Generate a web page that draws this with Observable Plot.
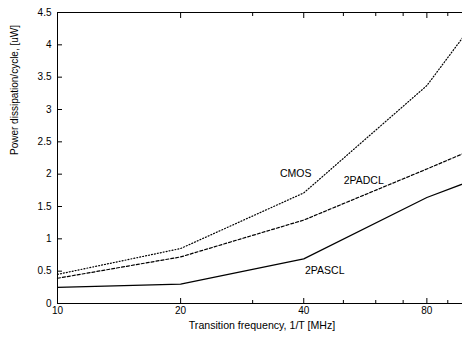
<!DOCTYPE html>
<html><head><meta charset="utf-8">
<script src="https://cdn.jsdelivr.net/npm/d3@7"></script>
<script src="https://cdn.jsdelivr.net/npm/@observablehq/plot@0.6"></script>
<style>
html,body{margin:0;padding:0;background:#fff;overflow:hidden;}
#chart svg{max-width:none !important;display:block;}
</style></head><body><div id="chart"></div>
<script>
const freq = [10, 20, 40, 80, 100];
const cmos = [0.45, 0.85, 1.71, 3.37, 4.19];
const padcl = [0.39, 0.72, 1.29, 2.08, 2.34];
const pascl = [0.25, 0.30, 0.69, 1.64, 1.87];
const seriesNames = ["CMOS", "2PADCL", "2PASCL"];
const xMajorTicks = [10, 20, 40, 80];
const xMinorTicks = [30, 50, 60, 70, 90];
const yTicks = [0, 0.5, 1, 1.5, 2, 2.5, 3, 3.5, 4, 4.5];
const xLabel = "Transition frequency, 1/T [MHz]";
const yLabel = "Power dissipation/cycle, [uW]";

const seriesValues = [cmos, padcl, pascl];
const rows = [];
seriesNames.forEach((name, k) => freq.forEach((f, i) => rows.push({series: name, f, p: seriesValues[k][i]})));

const dash = {"CMOS": "1,2", "2PADCL": "3,2", "2PASCL": null};
const labelOffset = {"CMOS": [-8, -19], "2PADCL": [60, -39], "2PASCL": [21, 12]};

const lineMarks = seriesNames.map(name => Plot.line(rows.filter(d => d.series === name), {
  x: "f", y: "p", stroke: "black", strokeWidth: 1.2, strokeDasharray: dash[name]
}));
const labelMarks = seriesNames.map(name => Plot.text(rows.filter(d => d.series === name && d.f === 40), {
  x: "f", y: "p", text: "series", dx: labelOffset[name][0], dy: labelOffset[name][1], fill: "black", fontSize: 10.5
}));

const fmt = d => String(d);
const plot = Plot.plot({
  width: 466, height: 338,
  marginLeft: 57, marginRight: 0, marginTop: 12, marginBottom: 35,
  style: {fontFamily: "'Liberation Sans', Arial, Helvetica, sans-serif", fontSize: "10px", background: "white", color: "black"},
  x: {type: "log", domain: [10, 100]},
  y: {domain: [0, 4.5]},
  marks: [
    Plot.frame({stroke: "black", strokeWidth: 1}),
    // tick labels
    Plot.text(xMajorTicks, {x: d => d, frameAnchor: "bottom", dy: 10, text: fmt, fontSize: 10, fill: "black"}),
    Plot.axisY(yTicks, {anchor: "left", tickSize: 0, tickPadding: 6, tickFormat: fmt, label: null, fontSize: 10}),
    // inward tick marks
    Plot.axisX(xMajorTicks, {anchor: "bottom", tickSize: -5, tickFormat: () => "", label: null}),
    Plot.axisX(xMajorTicks, {anchor: "top", tickSize: -5, tickFormat: () => "", label: null}),
    Plot.axisX(xMinorTicks, {anchor: "bottom", tickSize: -3, tickFormat: () => "", label: null}),
    Plot.axisX(xMinorTicks, {anchor: "top", tickSize: -3, tickFormat: () => "", label: null}),
    Plot.axisY(yTicks, {anchor: "left", tickSize: -5, tickFormat: () => "", label: null}),
    Plot.axisY(yTicks, {anchor: "right", tickSize: -5, tickFormat: () => "", label: null}),
    ...lineMarks,
    ...labelMarks,
    Plot.text([xLabel], {frameAnchor: "bottom", text: d => d, dy: 25, fontSize: 10.6, fill: "black"}),
    Plot.text([yLabel], {frameAnchor: "left", text: d => d, rotate: -90, dx: -43, dy: -3, fontSize: 10, fill: "black"})
  ]
});
document.getElementById("chart").appendChild(plot);
</script></body></html>
